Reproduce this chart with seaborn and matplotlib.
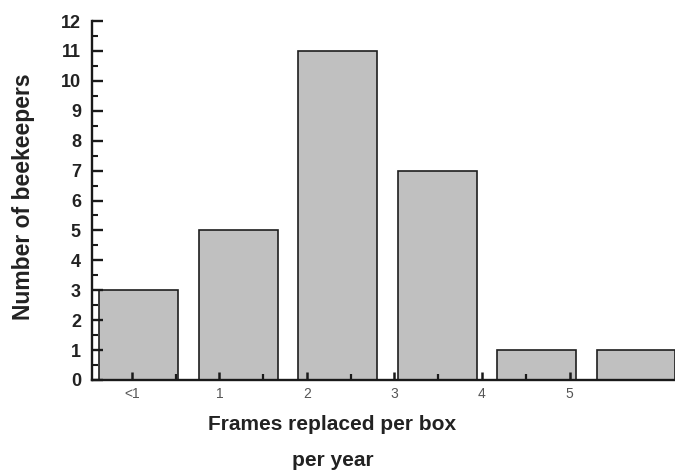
import matplotlib
matplotlib.use("Agg")
import matplotlib.pyplot as plt
import seaborn as sns
import numpy as np
from matplotlib.ticker import MultipleLocator, FixedLocator

categories = ["<1", "1", "2", "3", "4", "5"]
beekeepers = [3, 5, 11, 7, 1, 1]
y_ticks = list(range(0, 13))

sns.set_style("white")
plt.rcParams['font.family'] = ['Liberation Sans', 'DejaVu Sans']

fig = plt.figure(figsize=(6.75, 4.7), dpi=100)
ax_top, ax_bot = 21, 380
ax = fig.add_axes([92/675, 1-ax_bot/470, 1-92/675, (ax_bot-ax_top)/470])

sns.barplot(x=categories, y=beekeepers, ax=ax, width=0.79, color="#c0c0c0",
            saturation=1, edgecolor="#1e1e1e", linewidth=1.2)

ax.set_xlim(-0.47, 5.39)
ax.set_ylim(0, 12)
ax.set_axisbelow(False)

for s in ["top", "right"]:
    ax.spines[s].set_visible(False)
for s in ["left", "bottom"]:
    ax.spines[s].set_linewidth(1.7)
    ax.spines[s].set_color("#1a1a1a")
    ax.spines[s].set_zorder(5)

ax.set_yticks(y_ticks)
ax.yaxis.set_minor_locator(MultipleLocator(0.5))
ax.set_yticklabels([str(v) for v in y_ticks], fontsize=13, fontweight="bold", color="#222222")
ax.tick_params(axis="y", which="both", left=True)
ax.tick_params(axis="y", which="major", direction="in", length=8, width=1.7, pad=8, color="#1a1a1a")
ax.tick_params(axis="y", which="minor", direction="in", length=4, width=1.5, color="#1a1a1a")

# tick marks in the reference are spaced slightly narrower than the bars
n = len(categories)
tick_pos = [-0.07 + 0.88 * i for i in range(n)]
minor_pos = [-0.07 + 0.88 * (i + 0.5) for i in range(n - 1)]
ax.xaxis.set_major_locator(FixedLocator(tick_pos))
ax.xaxis.set_minor_locator(FixedLocator(minor_pos))
ax.set_xticklabels(categories, fontsize=10, color="#555555")
ax.tick_params(axis="x", which="both", bottom=True)
ax.tick_params(axis="x", which="major", direction="in", length=6, width=1.8, pad=5, color="#1a1a1a")
ax.tick_params(axis="x", which="minor", direction="in", length=4, width=1.6, color="#1a1a1a")

ax.set_xlabel("")
ax.set_ylabel("")
fig.text(332/675, 1-424/470, "Frames replaced per box", ha="center", va="center",
         fontsize=15, fontweight="bold", color="#222222")
fig.text(333/675, 1-460/470, "per year", ha="center", va="center",
         fontsize=15, fontweight="bold", color="#222222")
fig.text(24/675, 1-197/470, "Number of beekeepers", ha="center", va="center",
         rotation=90, fontsize=16.5, fontweight="bold", color="#222222")

fig.savefig("out.png", dpi=100)
